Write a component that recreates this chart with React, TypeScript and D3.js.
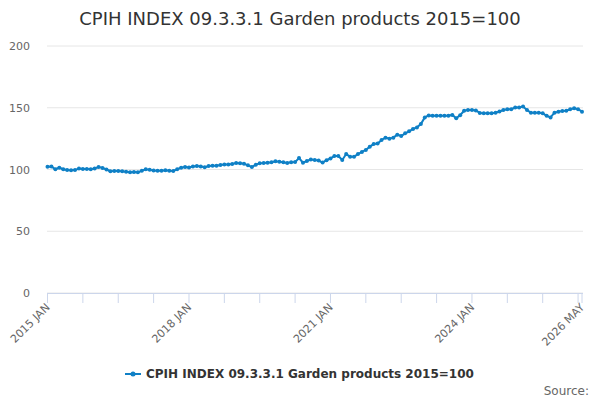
import React from "react";
import * as d3 from "d3";

const title = "CPIH INDEX 09.3.3.1 Garden products 2015=100";
const seriesName = "CPIH INDEX 09.3.3.1 Garden products 2015=100";
const startYear = 2015;
const monthNames = ["JAN", "FEB", "MAR", "APR", "MAY", "JUN", "JUL", "AUG", "SEP", "OCT", "NOV", "DEC"];
const values: number[] = [
  102.3, 102.4, 100.2, 101.5, 100.2, 99.6, 99.3, 99.5, 100.8, 100.4, 100.4, 100.2,
  100.9, 102.0, 101.3, 100.0, 98.6, 98.7, 98.7, 98.5, 98.2, 97.7, 98.0, 97.7,
  99.0, 100.2, 99.7, 99.2, 99.0, 99.0, 99.3, 99.0, 98.8, 100.2, 101.5, 102.0,
  101.6, 102.5, 102.8, 102.5, 101.8, 102.8, 103.1, 103.1, 103.6, 104.1, 104.1, 104.4,
  105.2, 105.0, 104.7, 103.4, 102.0, 103.9, 105.0, 105.2, 105.5, 105.8, 106.6, 106.3,
  105.8, 105.2, 105.8, 106.0, 109.3, 105.5, 106.9, 108.0, 107.7, 107.2, 105.6, 107.5,
  109.0, 110.9, 110.9, 107.7, 112.5, 110.4, 110.4, 112.5, 114.2, 115.8, 118.5, 120.6,
  121.1, 123.9, 125.8, 125.0, 125.8, 128.2, 127.1, 129.3, 130.9, 132.8, 134.1, 136.8,
  142.2, 143.8, 143.6, 143.6, 143.6, 143.6, 143.6, 144.2, 141.5, 144.0, 147.6, 148.2,
  148.2, 147.8, 145.8, 145.5, 145.5, 145.5, 146.0, 147.0, 148.2, 148.8, 148.8, 150.3,
  150.3, 151.0, 148.2, 146.0, 146.0, 146.0, 145.5, 143.5, 142.2, 146.0, 146.8, 147.3,
  147.6, 148.8, 149.5, 148.8, 146.8,
];
const yTicks = [0, 50, 100, 150, 200];
const labelledMonths = [0, 36, 72, 108, 136];

const monthLabel = (m: number) => `${startYear + Math.floor(m / 12)} ${monthNames[m % 12]}`;

export default function App() {
  const W = 600, H = 400;
  const last = values.length - 1;
  const x = d3.scaleLinear().domain([0, last]).range([47.5, 582]);
  const y = d3.scaleLinear().domain([0, 200]).range([293, 46]);
  const tickMonths = [...d3.range(0, last, 9), last];
  const line = d3.line<number>().x((_, i) => x(i)).y((d) => y(d));
  const color = "#0f80c6";
  const font = "DejaVu Sans, sans-serif";

  return (
    <svg width={W} height={H} style={{ position: "fixed", left: 0, top: 0, background: "#fff" }} fontFamily={font}>
      <text x={300} y={25} textAnchor="middle" fontSize={18} fill="#333">{title}</text>
      {yTicks.map((t) => (
        <g key={t}>
          <line x1={47} x2={583} y1={y(t)} y2={y(t)} stroke="#e6e6e6" strokeWidth={1} />
          <text x={30} y={y(t) + 4} textAnchor="end" fontSize={11} fill="#666">{t}</text>
        </g>
      ))}
      <line x1={47} x2={583} y1={y(0) + 0.5} y2={y(0) + 0.5} stroke="#ccd6eb" strokeWidth={1} />
      {tickMonths.map((m) => (
        <line key={m} x1={x(m)} x2={x(m)} y1={y(0)} y2={y(0) + 10} stroke="#ccd6eb" strokeWidth={1} />
      ))}
      {labelledMonths.map((m) => (
        <text key={m} transform={`translate(${x(m) + 3},${y(0) + 15}) rotate(-45)`} textAnchor="end" fontSize={11} fill="#666">
          {monthLabel(m)}
        </text>
      ))}
      <path d={line(values) || ""} fill="none" stroke={color} strokeWidth={2} />
      {values.map((v, i) => (
        <circle key={i} cx={x(i)} cy={y(v)} r={2} fill={color} />
      ))}
      <g>
        <line x1={125} x2={141} y1={374} y2={374} stroke={color} strokeWidth={2} />
        <circle cx={133} cy={374} r={2.5} fill={color} />
        <text x={146} y={378} fontSize={12} fontWeight="bold" fill="#333">{seriesName}</text>
      </g>
      <text x={589} y={395} textAnchor="end" fontSize={12} fill="#666">Source:</text>
    </svg>
  );
}
